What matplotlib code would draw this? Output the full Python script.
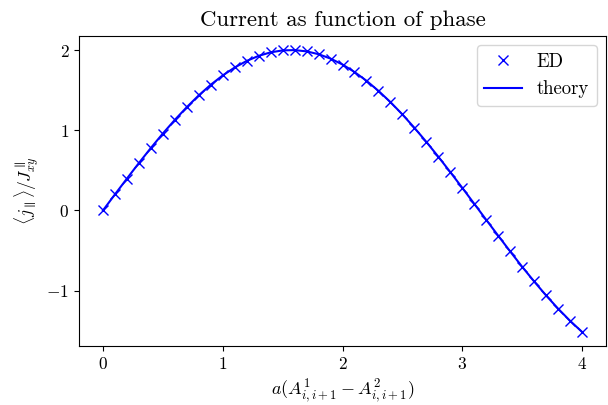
import matplotlib
matplotlib.use("Agg")
import matplotlib.pyplot as plt

plt.rcParams['font.family'] = 'serif'
plt.rcParams['font.serif'] = ['cmr10']
plt.rcParams['mathtext.fontset'] = 'cm'
plt.rcParams['axes.formatter.use_mathtext'] = True
plt.rcParams['axes.unicode_minus'] = True

x_vals = [0.0, 0.1, 0.2, 0.3, 0.4, 0.5, 0.6, 0.7, 0.8, 0.9, 1.0,
          1.1, 1.2, 1.3, 1.4, 1.5, 1.6, 1.7, 1.8, 1.9, 2.0,
          2.1, 2.2, 2.3, 2.4, 2.5, 2.6, 2.7, 2.8, 2.9, 3.0,
          3.1, 3.2, 3.3, 3.4, 3.5, 3.6, 3.7, 3.8, 3.9, 4.0]
ed_vals = [0.000, 0.200, 0.397, 0.591, 0.779, 0.959, 1.129, 1.288, 1.435, 1.567, 1.683,
           1.782, 1.864, 1.927, 1.971, 1.995, 1.999, 1.983, 1.948, 1.893, 1.819,
           1.726, 1.617, 1.491, 1.351, 1.197, 1.031, 0.855, 0.670, 0.478, 0.282,
           0.083, -0.117, -0.315, -0.511, -0.702, -0.885, -1.060, -1.224, -1.376, -1.514]
theory_vals = list(ed_vals)

fig = plt.figure(figsize=(6.08, 4.05), dpi=100)
ax = fig.add_axes([79/608, 59/405, 527/608, 310/405])
ax.plot(x_vals, ed_vals, 'x', color='blue', markersize=7, label='ED')
ax.plot(x_vals, theory_vals, '-', color='blue', linewidth=1.5, label='theory')
ax.set_title('Current as function of phase', fontsize=16.5, pad=7)
ax.set_xlabel(r'$a(A^1_{i,i+1} - A^2_{i,i+1})$', fontsize=13)
ax.set_ylabel(r'$\langle j_\parallel \rangle / J^{\parallel}_{xy}$', fontsize=12.5)
ax.set_xticks([0, 1, 2, 3, 4])
ax.set_yticks([-1, 0, 1, 2])
ax.tick_params(labelsize=12.5)
ax.legend(fontsize=13.5, loc='upper right')
fig.savefig('out.png', dpi=100)
